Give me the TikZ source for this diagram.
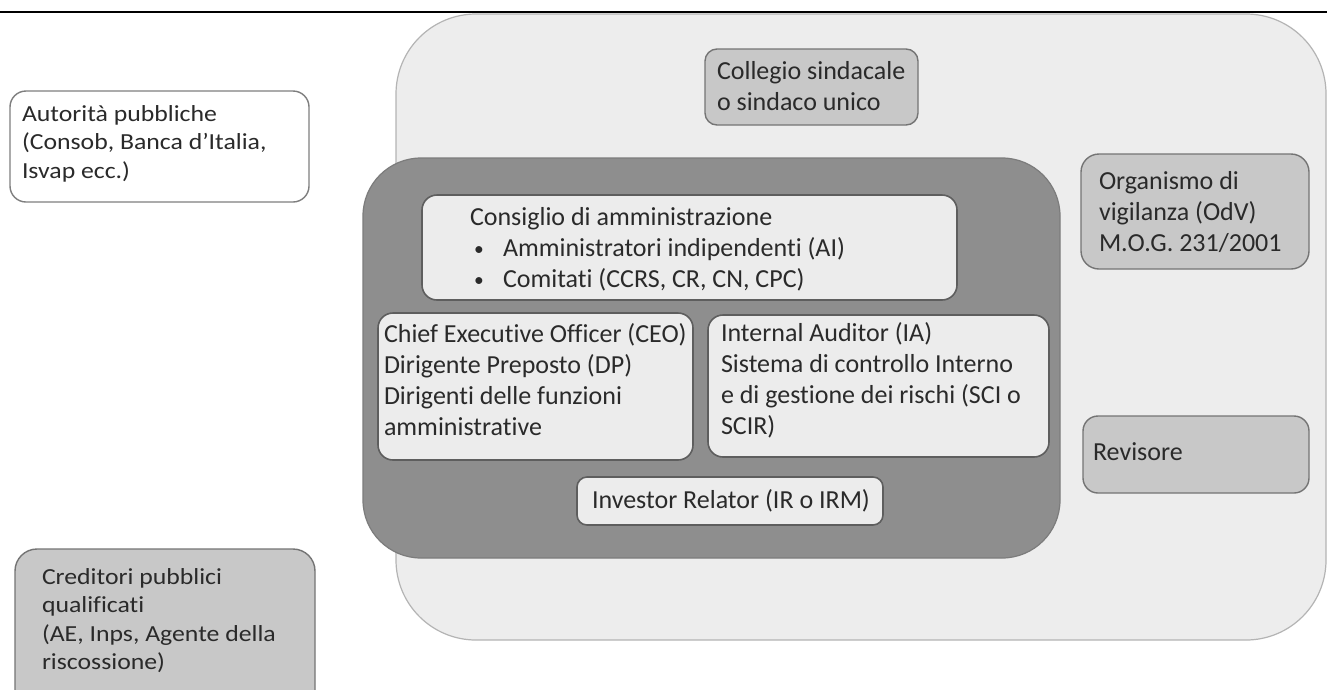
\documentclass[tikz,border=0pt]{standalone}
\usepackage{fontspec}
\setmainfont{Carlito}[Ligatures=NoCommon]
\newfontfamily\leftf{Carlito}[FakeStretch=1.12,Ligatures=NoCommon]
\definecolor{outerfill}{HTML}{EDEDED}
\definecolor{outerline}{HTML}{B4B4B4}
\definecolor{corefill}{HTML}{8E8E8E}
\definecolor{coreline}{HTML}{7C7C7C}
\definecolor{innerfill}{HTML}{ECECEC}
\definecolor{innerline}{HTML}{5E5E5E}
\definecolor{greyfill}{HTML}{C8C8C8}
\definecolor{greyline}{HTML}{747474}
\definecolor{whiteline}{HTML}{7E7E7E}
\definecolor{txtcol}{HTML}{2A2A2A}
\newcommand{\txtlines}[1]{\begin{tabular}[t]{@{}l@{}}#1\end{tabular}}
\newcommand{\bul}{\hspace*{4pt}\makebox[29pt][l]{\raisebox{1pt}{\scalebox{0.75}{•}}}}
\tikzset{
  boxbase/.style={rectangle, inner sep=0pt, outer sep=0pt, anchor=north west},
  outerbox/.style={boxbase, draw=outerline, fill=outerfill, line width=1.2pt, rounded corners=80pt},
  corebox/.style={boxbase, draw=coreline, fill=corefill, line width=1.2pt, rounded corners=58pt},
  innerbox/.style={boxbase, draw=innerline, fill=innerfill, line width=1.6pt, rounded corners=15pt},
  greybox/.style={boxbase, draw=greyline, fill=greyfill, line width=1.4pt, rounded corners=15pt},
  whitebox/.style={boxbase, draw=whiteline, fill=white, line width=1.4pt, rounded corners=16pt},
  txt/.style={anchor=base west, inner sep=0pt, outer sep=0pt, text=txtcol, font=\fontsize{26}{31}\selectfont},
  lefttxt/.style={anchor=base west, inner sep=0pt, outer sep=0pt, text=txtcol, font=\leftf\fontsize{23}{28.5}\selectfont},
  topline/.style={draw=black, line width=2pt}
}
\begin{document}
\begin{tikzpicture}[x=1pt,y=-1pt]
\clip (0,0) rectangle (1327,689);
\fill[white] (0,0) rectangle (1327,689);
\coordinate (tl) at (0,12);
\coordinate (tr) at (1327,12);
\draw[topline] (tl) -- (tr);

\node[outerbox, minimum width=930pt, minimum height=626pt] (outer) at (396,14) {};
\node[corebox, minimum width=697pt, minimum height=400pt] (core) at (363,158) {};

\node[innerbox, minimum width=535pt, minimum height=105pt] (cda) at (422,195) {};
\node[innerbox, minimum width=315pt, minimum height=147pt] (ceo) at (378,313) {};
\node[innerbox, minimum width=341pt, minimum height=142pt] (ia) at (708,315) {};
\node[innerbox, minimum width=306pt, minimum height=48pt, rounded corners=10pt] (ir) at (577,477) {};

\node[greybox, minimum width=213pt, minimum height=76pt, rounded corners=12pt] (cs) at (705,49) {};
\node[greybox, minimum width=228pt, minimum height=115pt, rounded corners=18pt] (odv) at (1081,154) {};
\node[greybox, minimum width=226pt, minimum height=77pt] (rev) at (1083,416) {};
\node[whitebox, minimum width=299pt, minimum height=111pt] (aut) at (10,91) {};
\node[greybox, minimum width=300pt, minimum height=170pt, rounded corners=22pt] (cred) at (15,549) {};

\node[lefttxt] (auttxt) at (22,121) {\txtlines{Autorità pubbliche\\(Consob, Banca d’Italia,\\Isvap ecc.)}};
\node[lefttxt] (credtxt) at (42,584) {\txtlines{Creditori pubblici\\qualificati\\(AE, Inps, Agente della\\riscossione)}};
\node[txt] (cstxt) at (717,79) {\txtlines{Collegio sindacale\\o sindaco unico}};
\node[txt] (cdatxt) at (470,225) {\txtlines{Consiglio di amministrazione\\\bul Amministratori indipendenti (AI)\\\bul Comitati (CCRS, CR, CN, CPC)}};
\node[txt] (ceotxt) at (384,342) {\txtlines{Chief Executive Officer (CEO)\\Dirigente Preposto (DP)\\Dirigenti delle funzioni\\amministrative}};
\node[txt] (iatxt) at (721,341) {\txtlines{Internal Auditor (IA)\\Sistema di controllo Interno\\e di gestione dei rischi (SCI o\\SCIR)}};
\node[txt] (irtxt) at (592,508) {Investor Relator (IR o IRM)};
\node[txt] (odvtxt) at (1099,189) {\txtlines{Organismo di\\vigilanza (OdV)\\M.O.G. 231/2001}};
\node[txt] (revtxt) at (1093,460) {Revisore};
\end{tikzpicture}
\end{document}
